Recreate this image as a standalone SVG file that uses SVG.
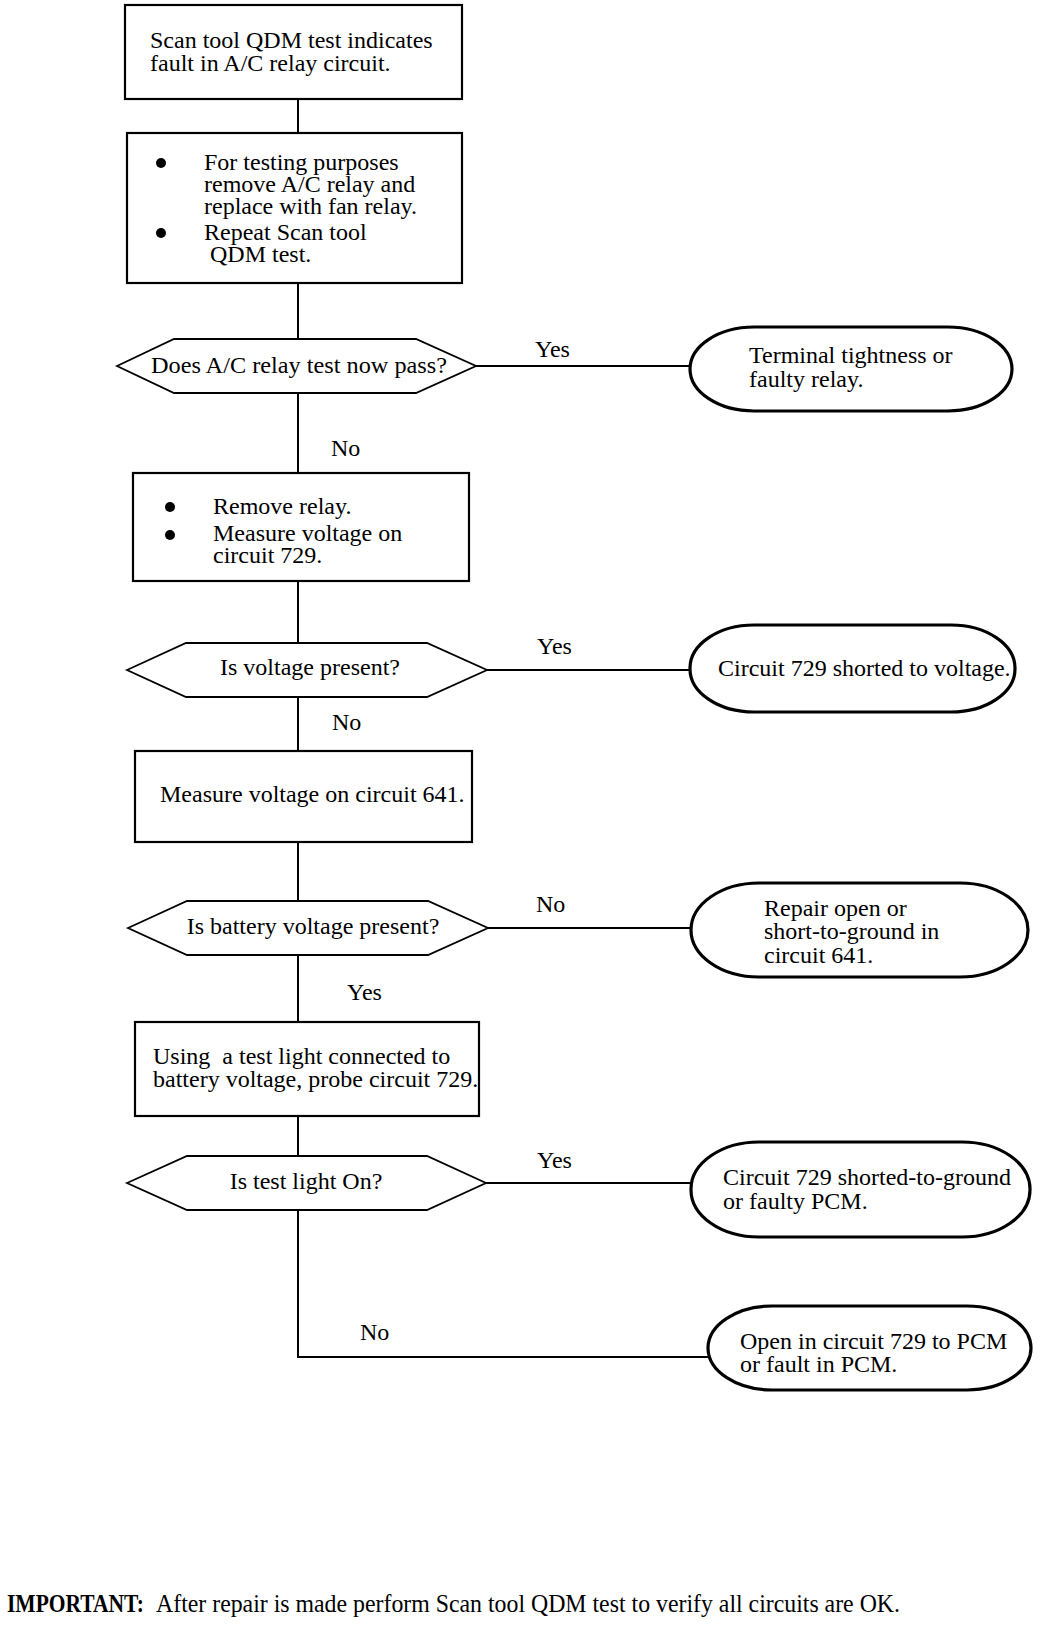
<svg xmlns="http://www.w3.org/2000/svg" width="1056" height="1628" viewBox="0 0 1056 1628">
<style>
text{font-family:"Liberation Serif","Times New Roman",serif;font-size:24px;fill:#000}
.box{fill:#fff;stroke:#000;stroke-width:2.2}
.hex{fill:#fff;stroke:#000;stroke-width:1.8}
.oval{fill:#fff;stroke:#000;stroke-width:3.2}
.ln{fill:none;stroke:#000;stroke-width:2}
.mid{text-anchor:middle}
.note{font-size:26px}
.b{font-weight:bold}
</style>
<rect width="1056" height="1628" fill="#fff"/>
<g id="connectors">
<path class="ln" d="M298 99V133M298 283V339M298 393V473M298 581V643M298 697V751M298 842V901M298 955V1022M298 1116V1156M298 1210V1357H708"/>
<path class="ln" d="M476 366H690M487 670H690M488 928H691M486 1183H691"/>
<text x="535" y="357">Yes</text>
<text x="331" y="456">No</text>
<text x="537" y="654">Yes</text>
<text x="332" y="730">No</text>
<text x="536" y="912">No</text>
<text x="347" y="1000">Yes</text>
<text x="537" y="1168">Yes</text>
<text x="360" y="1340">No</text>
</g>
<g id="n1">
<rect class="box" x="125" y="5" width="337" height="94"/>
<text x="150" y="48">Scan tool QDM test indicates</text>
<text x="150" y="71">fault in A/C relay circuit.</text>
</g>
<g id="n2">
<rect class="box" x="127" y="133" width="335" height="150"/>
<circle cx="161" cy="163" r="5"/>
<circle cx="161" cy="233" r="5"/>
<text x="204" y="170">For testing purposes</text>
<text x="204" y="192">remove A/C relay and</text>
<text x="204" y="214">replace with fan relay.</text>
<text x="204" y="240">Repeat Scan tool</text>
<text x="210" y="262">QDM test.</text>
</g>
<g id="d1">
<polygon class="hex" points="117,366 174,339 416,339 476,366 416,393 174,393"/>
<text class="mid" x="299" y="373" textLength="296" lengthAdjust="spacingAndGlyphs">Does A/C relay test now pass?</text>
</g>
<g id="t1">
<rect class="oval" x="690" y="327" width="322" height="84" rx="64" ry="42"/>
<text x="749" y="363">Terminal tightness or</text>
<text x="749" y="387">faulty relay.</text>
</g>
<g id="n3">
<rect class="box" x="133" y="473" width="336" height="108"/>
<circle cx="170" cy="507" r="5"/>
<circle cx="170" cy="535" r="5"/>
<text x="213" y="514">Remove relay.</text>
<text x="213" y="541">Measure voltage on</text>
<text x="213" y="563">circuit 729.</text>
</g>
<g id="d2">
<polygon class="hex" points="127,670 186,643 427,643 487,670 427,697 186,697"/>
<text class="mid" x="310" y="675">Is voltage present?</text>
</g>
<g id="t2">
<rect class="oval" x="690" y="625" width="325" height="87" rx="64" ry="43"/>
<text x="718" y="676">Circuit 729 shorted to voltage.</text>
</g>
<g id="n4">
<rect class="box" x="135" y="751" width="337" height="91"/>
<text x="160" y="802">Measure voltage on circuit 641.</text>
</g>
<g id="d3">
<polygon class="hex" points="128,928 187,901 428,901 488,928 428,955 187,955"/>
<text class="mid" x="313" y="934">Is battery voltage present?</text>
</g>
<g id="t3">
<rect class="oval" x="691" y="883" width="337" height="94" rx="68" ry="47"/>
<text x="764" y="916">Repair open or</text>
<text x="764" y="939">short-to-ground in</text>
<text x="764" y="963">circuit 641.</text>
</g>
<g id="n5">
<rect class="box" x="135" y="1022" width="344" height="94"/>
<text x="153" y="1064" xml:space="preserve">Using  a test light connected to</text>
<text x="153" y="1087">battery voltage, probe circuit 729.</text>
</g>
<g id="d4">
<polygon class="hex" points="127,1183 187,1156 427,1156 486,1183 427,1210 187,1210"/>
<text class="mid" x="306" y="1189">Is test light On?</text>
</g>
<g id="t4">
<rect class="oval" x="691" y="1142" width="339" height="95" rx="68" ry="47"/>
<text x="723" y="1185">Circuit 729 shorted-to-ground</text>
<text x="723" y="1209">or faulty PCM.</text>
</g>
<g id="t5">
<rect class="oval" x="708" y="1306" width="323" height="84" rx="64" ry="42"/>
<text x="740" y="1349">Open in circuit 729 to PCM</text>
<text x="740" y="1372">or fault in PCM.</text>
</g>
<g id="note">
<text class="note b" x="7" y="1612" textLength="137" lengthAdjust="spacingAndGlyphs">IMPORTANT:</text>
<text class="note" x="156" y="1612" textLength="744" lengthAdjust="spacingAndGlyphs">After repair is made perform Scan tool QDM test to verify all circuits are OK.</text>
</g>
</svg>
